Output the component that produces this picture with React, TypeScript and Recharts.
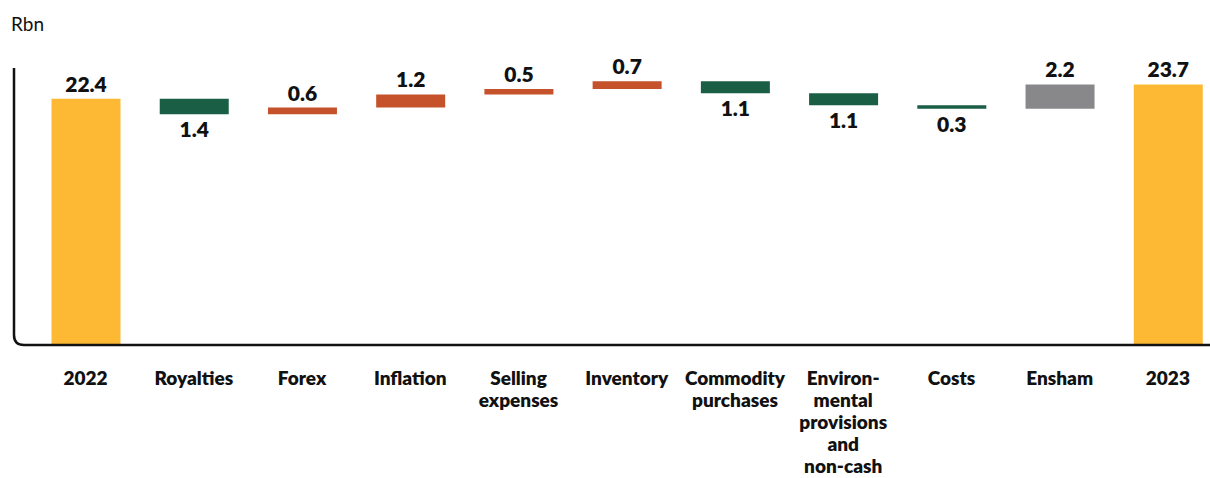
import React from 'react';
import { BarChart, Bar, XAxis, YAxis, Cell, LabelList, ReferenceLine } from 'recharts';

const categories = [
  '2022',
  'Royalties',
  'Forex',
  'Inflation',
  'Selling\nexpenses',
  'Inventory',
  'Commodity\npurchases',
  'Environ-\nmental\nprovisions\nand\nnon-cash',
  'Costs',
  'Ensham',
  '2023',
];
const values = [22.4, -1.4, 0.6, 1.2, 0.5, 0.7, -1.1, -1.1, -0.3, 2.2, 23.7];
const kinds = ['total', 'down', 'up', 'up', 'up', 'up', 'down', 'down', 'down', 'other', 'total'];

const colors: Record<string, string> = {
  total: '#fdb934',
  down: '#1b5e46',
  up: '#c5522b',
  other: '#88888b',
};

const TOP = 68;
const FONT = 'Lato, "Open Sans", sans-serif';

// waterfall rows: invisible base + visible span
let running = 0;
const rows = categories.map((name, i) => {
  const v = values[i];
  let base = 0;
  if (kinds[i] === 'total') {
    running = v;
    base = 0;
  } else {
    base = v < 0 ? running + v : running;
    running = running + v;
  }
  return { name, base, span: Math.abs(v), label: Math.abs(v).toFixed(1), kind: kinds[i] };
});

const AxisTick = (props: any) => {
  const { x, y, payload } = props;
  const lines = String(payload.value).split('\n');
  return (
    <text x={x} y={y + 32} textAnchor="middle" fill="#111" fontFamily={FONT} fontWeight={800} fontSize={19}>
      {lines.map((l, i) => (
        <tspan key={i} x={x} dy={i === 0 ? 0 : 22}>
          {l}
        </tspan>
      ))}
    </text>
  );
};

const ValueLabel = (props: any) => {
  const { x, y, width, height, index } = props;
  const r = rows[index];
  const below = r.kind === 'down';
  const ty = below ? y + height + 23 : y - 7;
  return (
    <text x={x + width / 2} y={ty} textAnchor="middle" fill="#111" fontFamily={FONT} fontWeight={800} fontSize={21}>
      {r.label}
    </text>
  );
};

const AxisFrame = (p: any) => {
  const { x1, y1, x2 } = p;
  const r = 10;
  return (
    <path
      d={`M ${x1} ${TOP} L ${x1} ${y1 - r} Q ${x1} ${y1} ${x1 + r} ${y1} L ${x2} ${y1}`}
      fill="none"
      stroke="#111"
      strokeWidth={2.5}
    />
  );
};

export default function App() {
  return (
    <div style={{ position: 'absolute', left: 0, top: 0, width: 1210, height: 478, overflow: 'hidden', background: '#fff' }}>
      <div style={{ position: 'absolute', left: 11, top: 12, fontFamily: FONT, fontSize: 19, color: '#111' }}>Rbn</div>
      <BarChart width={1222} height={478} data={rows} margin={{ top: TOP, right: 0, bottom: 0, left: 0 }} barSize={69}>
        <XAxis
          dataKey="name"
          axisLine={false}
          tickLine={false}
          interval={0}
          height={133}
          padding={{ left: 17.5, right: 0 }}
          tick={<AxisTick />}
        />
        <YAxis width={14} domain={[0, 25.2]} tick={false} axisLine={false} tickLine={false} />
        <Bar dataKey="base" stackId="w" fill="transparent" isAnimationActive={false} />
        <Bar dataKey="span" stackId="w" isAnimationActive={false}>
          {rows.map((r, i) => (
            <Cell key={i} fill={colors[r.kind]} />
          ))}
          <LabelList dataKey="label" content={<ValueLabel />} />
        </Bar>
        <ReferenceLine y={0} ifOverflow="visible" shape={AxisFrame} />
      </BarChart>
    </div>
  );
}
